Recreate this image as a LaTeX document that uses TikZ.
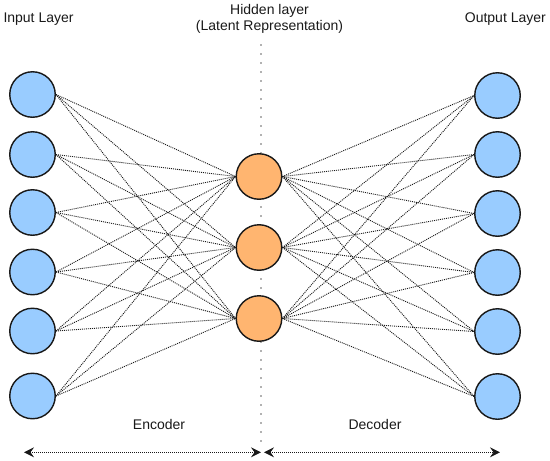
\documentclass[tikz,border=0pt]{standalone}
\usepackage{fontspec}
\setmainfont{Liberation Sans}
\usetikzlibrary{arrows.meta}
\definecolor{inblue}{RGB}{153,204,255}
\definecolor{hidorange}{RGB}{255,181,112}
\begin{document}
\begin{tikzpicture}[x=1pt,y=-1pt,
  neuron/.style={circle, draw=black!90, line width=1.4pt, minimum size=45.5pt, inner sep=0pt},
  inneuron/.style={neuron, fill=inblue},
  hidneuron/.style={neuron, fill=hidorange},
  conn/.style={black!90, line width=0.9pt, dash pattern=on 1pt off 1pt},
  lbl/.style={font=\fontsize{14}{17}\selectfont, text=black!90, inner sep=0pt, anchor=base},
  sep/.style={gray!60, line width=1.6pt, dash pattern=on 1.6pt off 7.4pt},
  spanarrow/.style={black!90, line width=0.9pt, dash pattern=on 1pt off 1pt,
    {Stealth[length=10pt,width=10pt,inset=3.5pt]}-{Stealth[length=10pt,width=10pt,inset=3.5pt]}}
]
\useasboundingbox (0,0) rectangle (550,461);

% separator
\coordinate (septop) at (261,44);
\coordinate (sepbot) at (261,444);
\draw[sep] (septop) -- (sepbot);

% neurons
\foreach \y [count=\i] in {94.5,154.5,212.5,272,331,396}
  \node[inneuron] (in\i) at (32.5,\y) {};
\foreach \y [count=\i] in {95.5,154.5,213.5,272.5,331.5,396.5}
  \node[inneuron] (out\i) at (497.5,\y) {};
\foreach \y [count=\i] in {176.5,247.5,318.5}
  \node[hidneuron] (h\i) at (259,\y) {};

% connections
\foreach \i in {1,...,6}
  \foreach \j in {1,2,3} {
    \draw[conn] (in\i.east) -- (h\j.west);
    \draw[conn] (h\j.east) -- (out\i.west);
  }

% labels
\node[lbl, anchor=base west] (lin) at (3.3,22.7) {Input Layer};
\node[lbl, anchor=base east] (lout) at (546,22.7) {Output Layer};
\node[lbl] (lhid1) at (269.5,14.2) {Hidden layer};
\node[lbl] (lhid2) at (269.5,30.8) {(Latent Representation)};
\node[lbl] (lenc) at (159,429) {Encoder};
\node[lbl] (ldec) at (375,429) {Decoder};

% span arrows
\coordinate (encL) at (24,452.3);
\coordinate (encR) at (261,452.3);
\coordinate (decL) at (264,452.3);
\coordinate (decR) at (500,452.3);
\draw[spanarrow] (encL) -- (encR);
\draw[spanarrow] (decL) -- (decR);
\end{tikzpicture}
\end{document}
